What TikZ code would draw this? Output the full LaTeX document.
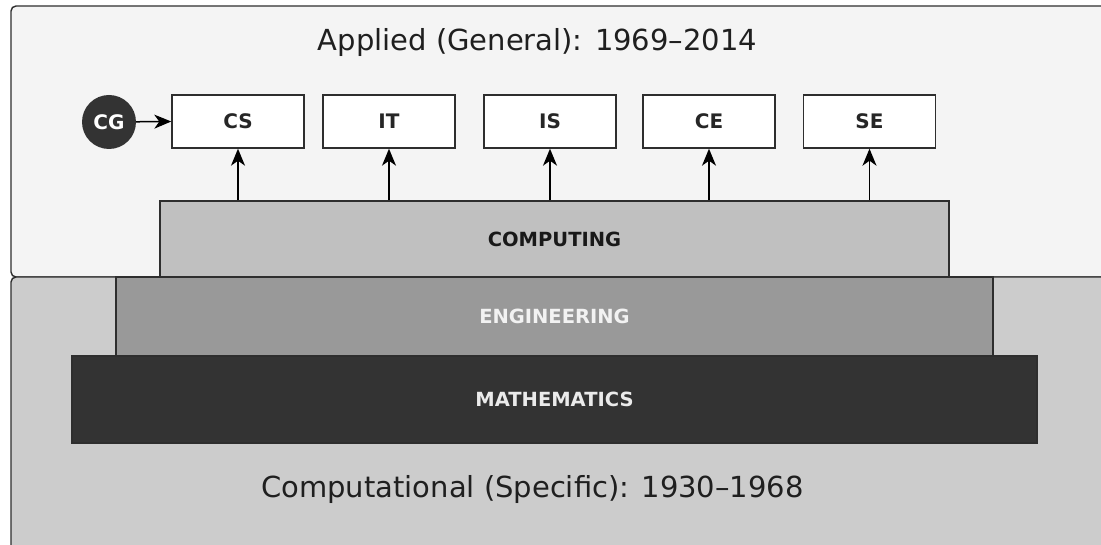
\documentclass[tikz,border=0pt]{standalone}
\usepackage{fontspec}
\setmainfont{DejaVu Sans}
\usetikzlibrary{arrows.meta}

\definecolor{ink}{HTML}{2E2E2E}
\definecolor{appliedbg}{HTML}{F4F4F4}
\definecolor{compbg}{HTML}{CCCCCC}
\definecolor{computingfill}{HTML}{C0C0C0}
\definecolor{engfill}{HTML}{999999}
\definecolor{mathfill}{HTML}{333333}

\tikzset{
  era/.style={draw=ink, line width=1.4pt, rounded corners=5pt},
  eratitle/.style={font=\fontsize{29}{32}\selectfont, text=black!88},
  layer/.style={draw=ink, line width=1.4pt, inner sep=0pt,
    font=\fontsize{19.5}{22}\selectfont\bfseries},
  discipline/.style={draw=ink, fill=white, line width=1.4pt, inner sep=0pt,
    minimum width=132pt, minimum height=53pt,
    font=\fontsize{20}{22}\selectfont\bfseries, text=black!85},
  origin/.style={circle, fill=mathfill, inner sep=0pt, minimum size=54pt,
    font=\fontsize{20}{22}\selectfont\bfseries, text=white},
  feed/.style={draw=black, line width=1.5pt,
    -{Stealth[length=17pt, width=14pt, inset=5pt]}}
}

\begin{document}
\begin{tikzpicture}[x=1pt, y=-1pt]
\useasboundingbox (0,0) rectangle (1101,545);
\clip (0,0) rectangle (1101,545);
\fill[white] (0,0) rectangle (1101,545);

% the two eras
\draw[era, fill=appliedbg] (11,6) rectangle (1120,277);
\draw[era, fill=compbg] (11,277) rectangle (1120,570);

\node[eratitle] (applied) at (537.5,43) {Applied (General): 1969–2014};
\node[eratitle] (computational) at (532.5,489) {Computational (Specific): 1930–1968};

% foundation layers
\node[layer, fill=mathfill, text=white!92!black, minimum width=965pt, minimum height=87pt]
  (math) at (554.5,399.5) {MATHEMATICS};
\node[layer, fill=engfill, text=white!95!black, minimum width=877pt, minimum height=79pt]
  (eng) at (554.5,316.5) {ENGINEERING};
\node[layer, fill=computingfill, text=black!90, minimum width=789pt, minimum height=76pt]
  (computing) at (554.5,239) {COMPUTING};

% disciplines
\node[discipline] (cs) at (238,121.5) {CS};
\node[discipline] (it) at (389,121.5) {IT};
\node[discipline] (is) at (550,121.5) {IS};
\node[discipline] (ce) at (709,121.5) {CE};
\node[discipline] (se) at (869.5,121.5) {SE};

\node[origin] (cg) at (109,122) {CG};

% connectors
\draw[feed] (cg) -- (cs.west);
\foreach \d in {cs,it,is,ce,se}
  \draw[feed] (computing.north -| \d.south) -- (\d.south);
\end{tikzpicture}
\end{document}
